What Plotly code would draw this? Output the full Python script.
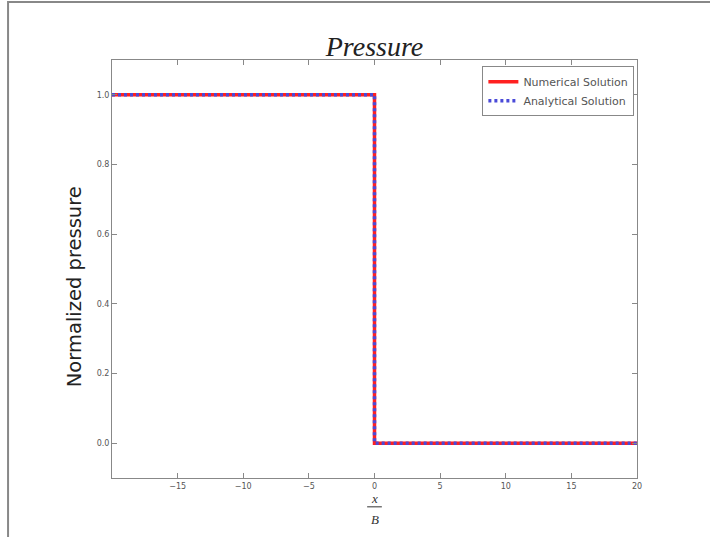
import plotly.graph_objects as go

# Step profile of normalized pressure along x/B
x_num = [-20, 0, 0, 20]
p_num = [1.0, 1.0, 0.0, 0.0]
x_ana = [-20, 0, 0, 20]
p_ana = [1.0, 1.0, 0.0, 0.0]

x_ticks = [-15, -10, -5, 0, 5, 10, 15, 20]
y_ticks = [0.0, 0.2, 0.4, 0.6, 0.8, 1.0]
y_ticklabels = ["0.0", "0.2", "0.4", "0.6", "0.8", "1.0"]

fig = go.Figure()
fig.add_trace(go.Scatter(
    x=x_num, y=p_num, mode="lines", name="Numerical Solution",
    line=dict(color="#ff2020", width=3.5),
))
fig.add_trace(go.Scatter(
    x=x_ana, y=p_ana, mode="lines", name="Analytical Solution",
    line=dict(color="#4a4ad8", width=3.5, dash="3px,3px"),
))

axis_common = dict(
    showgrid=False, zeroline=False, showline=True, linecolor="#888888",
    linewidth=1, mirror="ticks", ticks="inside", ticklen=5, tickcolor="#888888",
    tickfont=dict(family="DejaVu Sans", size=8, color="#555555"),
)

fig.update_xaxes(range=[-20, 20], tickvals=x_ticks, **axis_common)
fig.update_yaxes(range=[-0.1, 1.1], tickvals=y_ticks, ticktext=y_ticklabels,
                 **axis_common)

fig.update_layout(
    width=710, height=537,
    margin=dict(l=112, r=73, t=60, b=59),
    paper_bgcolor="white", plot_bgcolor="white",
    showlegend=True,
    legend=dict(x=0.995, y=0.985, xanchor="right", yanchor="top",
                bgcolor="white", bordercolor="#888888", borderwidth=1,
                font=dict(family="DejaVu Sans", size=11, color="#555555"),
                itemwidth=30, tracegroupgap=0),
    title=dict(text="<i>Pressure</i>", x=0.5, xref="paper", xanchor="center",
               y=1.0, yref="paper", yanchor="bottom", pad=dict(b=4),
               font=dict(family="Liberation Serif", size=28, color="#222222")),
    shapes=[
        dict(type="rect", xref="paper", yref="paper",
             x0=-0.198, x1=1.3, y0=-0.3, y1=1.139,
             line=dict(color="#888888", width=2), fillcolor="rgba(0,0,0,0)",
             layer="below"),
        dict(type="line", xref="paper", yref="paper",
             x0=0.486, x1=0.514, y0=-0.069, y1=-0.069,
             line=dict(color="#333333", width=1)),
    ],
    annotations=[
        dict(text="Normalized pressure", xref="paper", yref="paper",
             x=-0.07, y=0.457, textangle=-90, showarrow=False,
             xanchor="center", yanchor="middle",
             font=dict(family="DejaVu Sans", size=19.5, color="#222222")),
        dict(text="<i>x</i>", xref="paper", yref="paper", x=0.5, y=-0.048,
             showarrow=False, yanchor="middle",
             font=dict(family="Liberation Serif", size=13, color="#333333")),
        dict(text="<i>B</i>", xref="paper", yref="paper", x=0.5, y=-0.1,
             showarrow=False, yanchor="middle",
             font=dict(family="Liberation Serif", size=13, color="#333333")),
    ],
)

fig.write_html("out.html")
